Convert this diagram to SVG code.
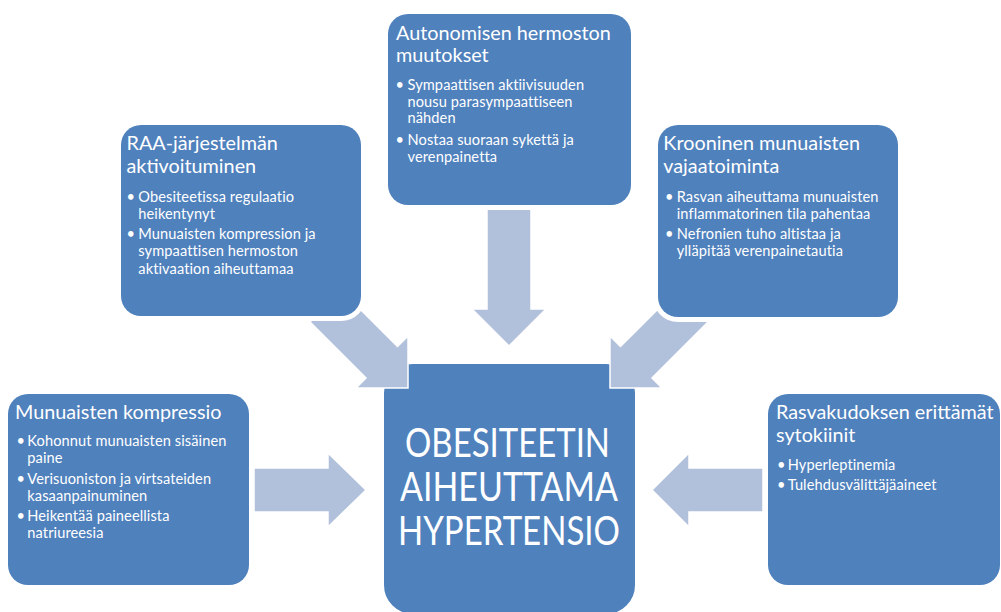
<svg xmlns="http://www.w3.org/2000/svg" width="1001" height="612" viewBox="0 0 1001 612">
<style>
.box{fill:#4F81BD;stroke:#FFFFFF;stroke-width:10;paint-order:stroke}
.center{fill:#4F81BD;stroke:#FFFFFF;stroke-width:2}
.arrow{fill:#B2C1DB;stroke:#FFFFFF;stroke-width:1.5;stroke-linejoin:miter}
.t{font-family:Lato,"Open Sans","Liberation Sans",sans-serif;fill:#FFFFFF}
.title{font-size:19.8px}
.bul{font-size:14.6px;letter-spacing:0.1px}
.big{font-size:40px}
</style>
<rect width="1001" height="612" fill="#FFFFFF"/>
<g id="center-node">
<rect class="center" x="383" y="363" width="253" height="252" rx="30"/>
<text class="t big" x="405" y="456.5" textLength="205" lengthAdjust="spacingAndGlyphs">OBESITEETIN</text>
<text class="t big" x="400" y="500.5" textLength="218" lengthAdjust="spacingAndGlyphs">AIHEUTTAMA</text>
<text class="t big" x="398" y="545" textLength="222" lengthAdjust="spacingAndGlyphs">HYPERTENSIO</text>
</g>
<g id="connectors">
<polygon class="arrow" points="487,200 531,200 531,309 546,309 509,346 472,309 487,309"/>
<polygon class="arrow" points="310,322 366,378 356,388 408,388 408,336 397.5,346.5 341.5,290.5"/>
<polygon class="arrow" points="708,322 652,378 662,388 610,388 610,336 620.5,346.5 676.5,290.5"/>
<polygon class="arrow" points="254,468 328,468 328,453 366,490 328,527 328,512 254,512"/>
<polygon class="arrow" points="763,468 689,468 689,453 652,490 689,527 689,512 763,512"/>
</g>
<g id="node-autonominen">
<rect class="box" x="388" y="14" width="243" height="191" rx="20"/>
<text class="t title"><tspan x="396" y="39.5">Autonomisen hermoston</tspan><tspan x="396" y="62">muutokset</tspan></text>
<text class="t bul"><tspan x="395.5" y="90">•</tspan><tspan x="407.5" y="90">Sympaattisen aktiivisuuden</tspan><tspan x="407.5" y="106.7">nousu parasympaattiseen</tspan><tspan x="407.5" y="123.4">nähden</tspan><tspan x="395.5" y="145">•</tspan><tspan x="407.5" y="145">Nostaa suoraan sykettä ja</tspan><tspan x="407.5" y="161.7">verenpainetta</tspan></text>
</g>
<g id="node-raa">
<rect class="box" x="121" y="125" width="240" height="191" rx="20"/>
<text class="t title"><tspan x="126.5" y="150">RAA-järjestelmän</tspan><tspan x="126.5" y="173">aktivoituminen</tspan></text>
<text class="t bul"><tspan x="126.5" y="201.7">•</tspan><tspan x="138.3" y="201.7">Obesiteetissa regulaatio</tspan><tspan x="138.3" y="218.8">heikentynyt</tspan><tspan x="126.5" y="239.3">•</tspan><tspan x="138.3" y="239.3">Munuaisten kompression ja</tspan><tspan x="138.3" y="256.4">sympaattisen hermoston</tspan><tspan x="138.3" y="273.5">aktivaation aiheuttamaa</tspan></text>
</g>
<g id="node-krooninen">
<rect class="box" x="658" y="125" width="240" height="192" rx="20"/>
<text class="t title"><tspan x="663.3" y="150">Krooninen munuaisten</tspan><tspan x="663.3" y="173">vajaatoiminta</tspan></text>
<text class="t bul"><tspan x="665" y="201.7">•</tspan><tspan x="676.7" y="201.7">Rasvan aiheuttama munuaisten</tspan><tspan x="676.7" y="218.8">inflammatorinen tila pahentaa</tspan><tspan x="665" y="239.3">•</tspan><tspan x="676.7" y="239.3">Nefronien tuho altistaa ja</tspan><tspan x="676.7" y="256.4">ylläpitää verenpainetautia</tspan></text>
</g>
<g id="node-kompressio">
<rect class="box" x="8" y="394" width="241" height="191" rx="20"/>
<text class="t title"><tspan x="15" y="418.5">Munuaisten kompressio</tspan></text>
<text class="t bul"><tspan x="16.5" y="446">•</tspan><tspan x="27.3" y="446">Kohonnut munuaisten sisäinen</tspan><tspan x="27.3" y="462.8">paine</tspan><tspan x="16.5" y="484">•</tspan><tspan x="27.3" y="484">Verisuoniston ja virtsateiden</tspan><tspan x="27.3" y="500.8">kasaanpainuminen</tspan><tspan x="16.5" y="521">•</tspan><tspan x="27.3" y="521">Heikentää paineellista</tspan><tspan x="27.3" y="538">natriureesia</tspan></text>
</g>
<g id="node-rasvakudos">
<rect class="box" x="768" y="394" width="232" height="191" rx="20"/>
<text class="t title"><tspan x="776" y="418.5">Rasvakudoksen erittämät</tspan><tspan x="776" y="441.5">sytokiinit</tspan></text>
<text class="t bul"><tspan x="777" y="470">•</tspan><tspan x="787.7" y="470">Hyperleptinemia</tspan><tspan x="777" y="490">•</tspan><tspan x="787.7" y="490">Tulehdusvälittäjäaineet</tspan></text>
</g>
</svg>
